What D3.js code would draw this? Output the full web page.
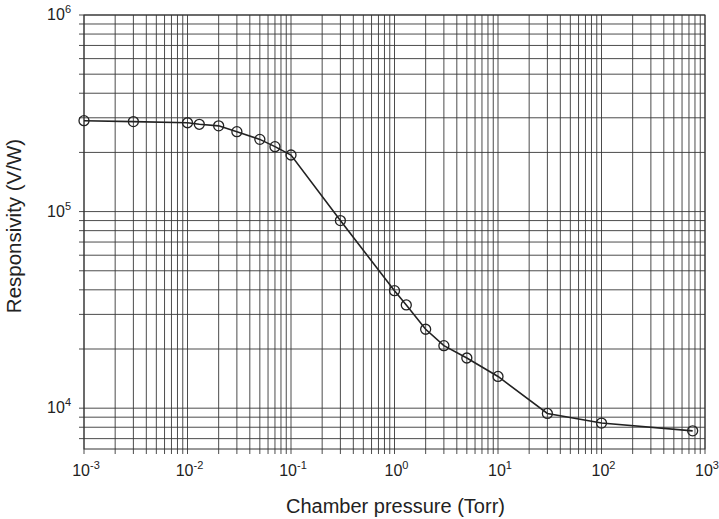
<!DOCTYPE html>
<html>
<head>
<meta charset="utf-8">
<script src="https://cdn.jsdelivr.net/npm/d3@7"></script>
<style>
  body { margin: 0; background: #fff; }
  text { font-family: "Liberation Sans", Arial, sans-serif; fill: #222; }
</style>
</head>
<body>
<svg id="chart" width="719" height="519"></svg>
<script>
// chamber pressure (Torr) and measured responsivity (V/W)
const pressure = [0.001, 0.003, 0.01, 0.013, 0.02, 0.03, 0.05, 0.07, 0.1, 0.3,
                  1, 1.3, 2, 3, 5, 10, 30, 100, 760];
const responsivity = [2.90e5, 2.87e5, 2.83e5, 2.78e5, 2.73e5, 2.55e5, 2.33e5, 2.14e5, 1.94e5, 9.0e4,
                      3.96e4, 3.35e4, 2.52e4, 2.08e4, 1.80e4, 1.45e4, 9.4e3, 8.4e3, 7.67e3];

const xTickExps = [-3, -2, -1, 0, 1, 2, 3];
const yTickExps = [4, 5, 6];

const xLabel = "Chamber pressure (Torr)";
const yLabel = "Responsivity (V/W)";

const margin = {top: 15, right: 14, bottom: 70, left: 84};
const width = 719 - margin.left - margin.right;
const height = 519 - margin.top - margin.bottom;

const x = d3.scaleLog().domain([1e-3, 1e3]).range([0, width]);
const y = d3.scaleLog().domain([6200, 1e6]).range([height, 0]);

const svg = d3.select("#chart");
const g = svg.append("g").attr("transform", `translate(${margin.left}, ${margin.top})`);

// log paper grid: 1..9 in every decade
let xGrid = [];
xTickExps.forEach(e => {
  for (let k = 1; k < 10; k++) {
    let v = k * Math.pow(10, e);
    if (v <= 1e3 * 1.0001) xGrid.push(v);
  }
});
let yGrid = [];
for (let e = 3; e <= 6; e++) {
  for (let k = 1; k < 10; k++) {
    let v = k * Math.pow(10, e);
    if (v >= 6200 && v <= 1e6 * 1.0001) yGrid.push(v);
  }
}

g.append("g").selectAll("line")
  .data(xGrid)
  .enter()
  .append("line")
  .attr("x1", d => x(d)).attr("x2", d => x(d))
  .attr("y1", 0).attr("y2", height + 5)
  .attr("stroke", "#383838")
  .attr("stroke-opacity", 0.9)
  .attr("stroke-width", 1);

g.append("g").selectAll("line")
  .data(yGrid)
  .enter()
  .append("line")
  .attr("x1", -5).attr("x2", width)
  .attr("y1", d => y(d)).attr("y2", d => y(d))
  .attr("stroke", "#383838")
  .attr("stroke-opacity", 0.9)
  .attr("stroke-width", 1);

// frame
g.append("rect")
  .attr("x", 0).attr("y", 0)
  .attr("width", width).attr("height", height)
  .attr("fill", "none")
  .attr("stroke", "#333")
  .attr("stroke-width", 1);

// tick labels with superscripts
const xt = g.append("g").selectAll("text")
  .data(xTickExps)
  .enter()
  .append("text")
  .attr("x", d => x(Math.pow(10, d)) + 2)
  .attr("y", height + 27)
  .attr("text-anchor", "middle")
  .style("font-size", "16px");
xt.append("tspan").text("10");
xt.append("tspan").attr("dy", -7).style("font-size", "11px").text(d => String(d));

const yt = g.append("g").selectAll("text")
  .data(yTickExps)
  .enter()
  .append("text")
  .attr("x", -13)
  .attr("y", d => y(Math.pow(10, d)) + 5)
  .attr("text-anchor", "end")
  .style("font-size", "16px");
yt.append("tspan").text("10");
yt.append("tspan").attr("dy", -7).style("font-size", "11px").text(d => String(d));

// axis titles
g.append("text")
  .attr("x", width / 2 + 1)
  .attr("y", height + 64)
  .attr("text-anchor", "middle")
  .style("font-size", "20px")
  .text(xLabel);

g.append("text")
  .attr("transform", `translate(${-margin.left + 21}, ${height / 2 - 6}) rotate(-90)`)
  .attr("text-anchor", "middle")
  .style("font-size", "20.5px")
  .text(yLabel);

// data line and open circle markers
const pts = pressure.map((p, i) => [p, responsivity[i]]);
g.append("path")
  .datum(pts)
  .attr("fill", "none")
  .attr("stroke", "#222")
  .attr("stroke-width", 1.6)
  .attr("d", d3.line().x(d => x(d[0])).y(d => y(d[1])));

g.append("g").selectAll("circle")
  .data(pts)
  .enter()
  .append("circle")
  .attr("cx", d => x(d[0]))
  .attr("cy", d => y(d[1]))
  .attr("r", 5)
  .attr("fill", "none")
  .attr("stroke", "#222")
  .attr("stroke-width", 1.3);
</script>
</body>
</html>
